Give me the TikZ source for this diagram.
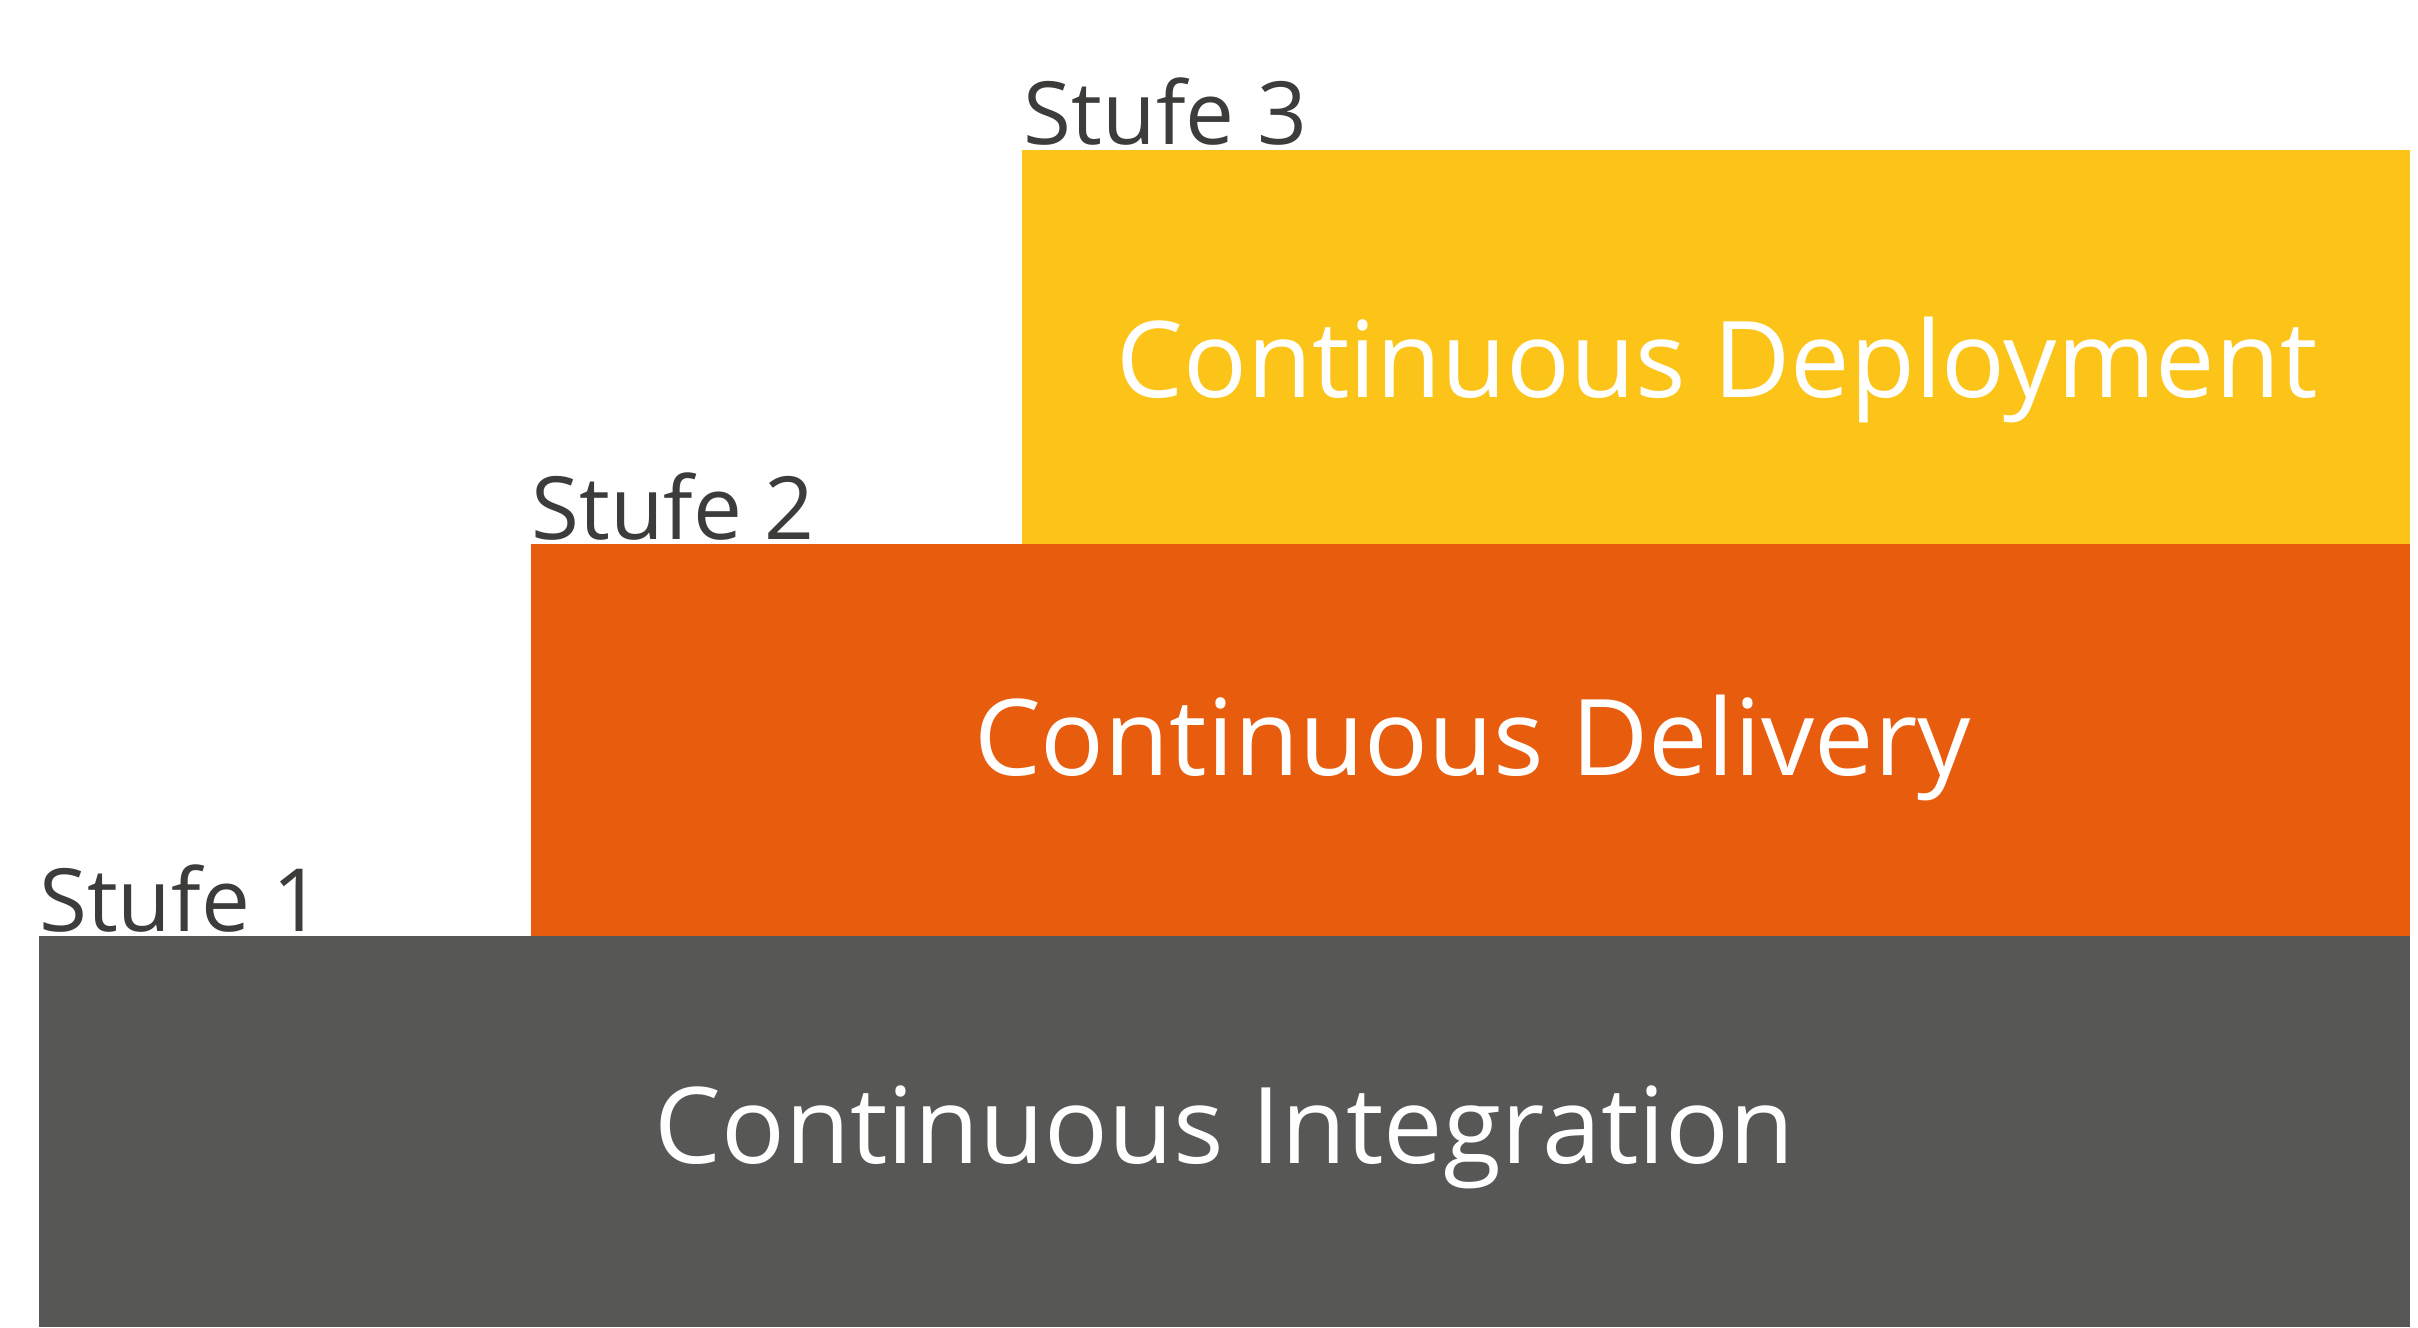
\documentclass[tikz,border=0pt]{standalone}
\usepackage{fontspec}
\setmainfont{Open Sans}
\definecolor{cgray}{HTML}{575756}
\definecolor{corange}{HTML}{E85C0E}
\definecolor{cyellow}{HTML}{FCC419}
\definecolor{ctext}{HTML}{3C3C3B}
\begin{document}
\begin{tikzpicture}[x=1pt,y=1pt,
  big/.style={font=\fontsize{68}{80}\selectfont, text=white, inner sep=0pt, anchor=base},
  lvl/.style={font=\fontsize{56}{66}\selectfont, text=ctext, inner sep=0pt, anchor=base west}]
\useasboundingbox (0,0) rectangle (1552,852);
\fill[cgray] (25,0) rectangle (1547,251) coordinate (g);
\fill[corange] (341,251) rectangle (1547,503);
\fill[cyellow] (656,503) rectangle (1547,756);
\node[big] (ci) at (786,105) {Continuous Integration};
\node[big] (cdl) at (945,354) {Continuous Delivery};
\node[big] (cdp) at (1102,597) {Continuous Deployment};
\node[lvl] (s1) at (25,254) {Stufe 1};
\node[lvl] (s2) at (341,506) {Stufe 2};
\node[lvl] (s3) at (657,759) {Stufe 3};
\end{tikzpicture}
\end{document}
